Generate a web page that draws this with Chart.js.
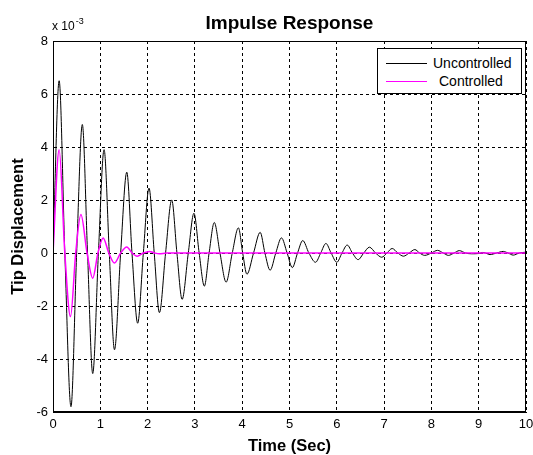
<!DOCTYPE html>
<html><head><meta charset="utf-8">
<script src="https://cdn.jsdelivr.net/npm/chart.js@4.4.1/dist/chart.umd.min.js"></script>
<style>
html,body{margin:0;padding:0;background:#fff;}
#wrap{position:relative;width:533px;height:455px;}
#legend{position:absolute;left:377px;top:48px;width:145px;height:46px;border:1px solid #000;background:#fff;box-sizing:border-box;font:14px "Liberation Sans",Arial,sans-serif;color:#000;}
.row{position:absolute;left:0;height:16px;display:flex;align-items:center;white-space:nowrap;}
.sw{display:inline-block;width:41px;height:0;border-top:1px solid;margin-left:8px;margin-right:6px;}
</style></head>
<body><div id="wrap"><canvas id="c" width="533" height="455"></canvas><div id="legend"></div></div>
<script>
// ---- data (displacement in units of 1e-3) ----
const chartTitle = 'Impulse Response';
const xAxisTitle = 'Time (Sec)';
const yAxisTitle = 'Tip Displacement';
const seriesLabels = ['Uncontrolled', 'Controlled'];
const xTicks = [0,1,2,3,4,5,6,7,8,9,10];
const yTicks = [-6,-4,-2,0,2,4,6,8];

const uncontrolledTime = [0,0.13,0.25,0.38,0.50,0.62,0.73,0.84,0.96,1.08,1.19,1.30,1.43,1.56,1.67,1.79,1.91,2.03,2.14,2.25,
  2.38,2.51,2.62,2.73,2.86,2.98,3.09,3.20,3.30,3.41,3.53,3.66,3.79,3.92,4.01,4.10,4.24,4.38,4.48,4.59,
  4.71,4.83,4.95,5.06,5.17,5.28,5.41,5.55,5.66,5.77,5.88,6.00,6.11,6.22,6.33,6.45,6.57,6.69,6.82,6.95,
  7.06,7.17,7.29,7.41,7.53,7.65,7.75,7.86,8.00,8.13,8.25,8.36,8.48,8.59,8.72,8.85,9.00,9.08,9.14,9.24,
  9.38,9.52,9.62,9.73,9.86,10.0];
const uncontrolledDisp = [0,6.5,0,-5.8,0,4.85,0,-4.55,0,3.9,0,-3.65,0,3.05,0,-2.65,0,2.45,0,-2.25,
  0,2.0,0,-1.75,0,1.5,0,-1.25,0,1.15,0,-1.1,0,0.95,0,-0.8,0,0.78,0,-0.65,
  0,0.57,0,-0.55,0,0.47,0,-0.35,0,0.36,0,-0.35,0,0.3,0,-0.25,0,0.22,0,-0.16,
  0,0.17,0,-0.12,0,0.13,0,-0.09,0,0.1,0,-0.09,0,0.09,0,-0.03,-0.02,0.02,0,-0.06,
  0,0.06,0,-0.08,0,0.03];

const controlledTime = [0,0.13,0.25,0.37,0.48,0.59,0.72,0.84,0.95,1.06,1.18,1.30,1.43,1.56,1.67,1.78,1.91,2.04,2.15,2.25,2.40,10.0];
const controlledDisp = [0,3.9,0,-2.4,0,1.45,0,-0.95,0,0.57,0,-0.38,0,0.23,0,-0.12,0,0.06,0,-0.03,0,0];

// ---- styles ----
const seriesColors = ['#000000', '#ff00ff'];
const seriesWidths = [1, 1.5];
const FONT = '"Liberation Sans", Arial, sans-serif';

function pts(t, v){ return t.map((x,i)=>({x:x, y:v[i]})); }

// legend (HTML)
const lg = document.getElementById('legend');
seriesLabels.forEach((lab,i)=>{
  const r = document.createElement('div');
  r.className='row';
  r.style.top = (i===0 ? 6 : 24) + 'px';
  const s = document.createElement('span'); s.className='sw'; s.style.borderColor = seriesColors[i];
  const t = document.createElement('span'); t.textContent = lab;
  if (i===1) t.style.marginLeft='6px';
  r.appendChild(s); r.appendChild(t); lg.appendChild(r);
});

const decor = {
  id:'decor',
  afterDraw(chart){
    const {ctx, chartArea:a} = chart;
    ctx.save();
    ctx.setLineDash([]);
    ctx.strokeStyle='#000'; ctx.lineWidth=1;
    const L=Math.round(a.left)+0.5, T=Math.round(a.top)+0.5, R=Math.round(a.right)-0.5, B=Math.round(a.bottom)-0.5;
    ctx.strokeRect(L, T, R-L, B-T);
    ctx.fillStyle='#000';
    ctx.font='bold 19px '+FONT; ctx.textAlign='center'; ctx.textBaseline='alphabetic';
    ctx.fillText(chartTitle, (a.left+a.right)/2, 29);
    ctx.textAlign='left';
    ctx.font='12px '+FONT;
    const base='x 10';
    ctx.fillText(base, a.left-1, 30);
    const w = ctx.measureText(base).width;
    ctx.font='9px '+FONT;
    ctx.fillText('-3', a.left-1+w+1, 24);
    ctx.restore();
  }
};

new Chart(document.getElementById('c'), {
  type:'line',
  data:{
    datasets:[
      {label:seriesLabels[0], data:pts(uncontrolledTime, uncontrolledDisp), borderColor:seriesColors[0], borderWidth:seriesWidths[0], pointRadius:0, fill:false, cubicInterpolationMode:'monotone', order:1},
      {label:seriesLabels[1], data:pts(controlledTime, controlledDisp), borderColor:seriesColors[1], borderWidth:seriesWidths[1], pointRadius:0, fill:false, cubicInterpolationMode:'monotone', order:0}
    ]
  },
  options:{
    responsive:false, animation:false, devicePixelRatio:1,
    layout:{padding:{top:41, right:7, left:0, bottom:0}},
    plugins:{legend:{display:false}, title:{display:false}, tooltip:{enabled:false}},
    scales:{
      x:{
        type:'linear', min:xTicks[0], max:xTicks[xTicks.length-1],
        afterBuildTicks(s){ s.ticks = xTicks.map(v=>({value:v})); },
        afterFit(s){ s.height = 43; s.paddingLeft = 0; s.paddingRight = 0; },
        ticks:{color:'#000', font:{family:FONT, size:13}, padding:5, maxRotation:0, autoSkip:false},
        grid:{color:'#000', lineWidth:1, drawTicks:false},
        border:{display:true, color:'#000', width:1, dash:[3,3]},
        title:{display:true, text:xAxisTitle, color:'#000', font:{family:FONT, size:16.5, weight:'bold', lineHeight:1}, padding:{top:0, bottom:0}}
      },
      y:{
        type:'linear', min:yTicks[0], max:yTicks[yTicks.length-1],
        afterBuildTicks(s){ s.ticks = yTicks.map(v=>({value:v})); },
        afterFit(s){ s.width = 53; s.paddingTop = 0; s.paddingBottom = 0; },
        ticks:{color:'#000', font:{family:FONT, size:13}, padding:5, autoSkip:false},
        grid:{color:'#000', lineWidth:1, drawTicks:false},
        border:{display:true, color:'#000', width:1, dash:[3,3]},
        title:{display:true, text:yAxisTitle, color:'#000', font:{family:FONT, size:16.5, weight:'bold', lineHeight:1}, padding:{top:10, bottom:0}}
      }
    }
  },
  plugins:[decor]
});
</script>
</body></html>
